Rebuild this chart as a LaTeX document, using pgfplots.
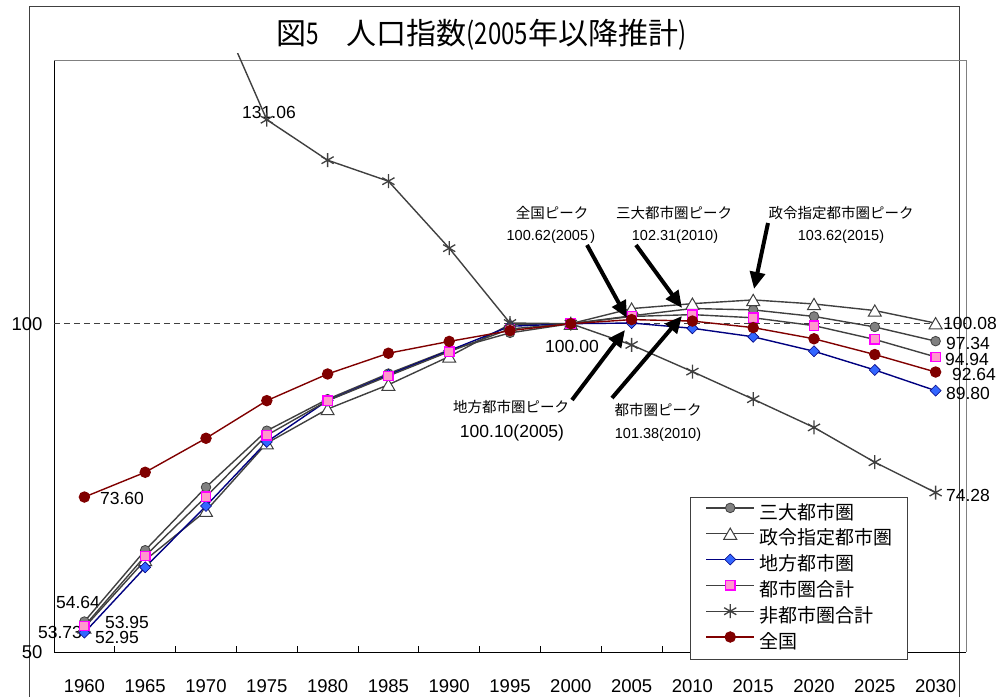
\documentclass[border=0pt]{standalone}
\usepackage{fontspec}
\setmainfont{Liberation Sans}
\newfontfamily\jp{Noto Sans CJK JP}
\usepackage{graphicx}
\usepackage{pgfplots}
\pgfplotsset{compat=1.18}
\usetikzlibrary{arrows.meta}
\definecolor{dgray}{HTML}{404040}
\definecolor{mgray}{HTML}{808080}
\definecolor{navyc}{HTML}{000080}
\definecolor{dblue}{HTML}{3366FF}
\definecolor{pinkf}{HTML}{FF99CC}
\definecolor{mag}{HTML}{FF00FF}
\definecolor{dred}{HTML}{800000}
\begin{document}
\begin{tikzpicture}
\useasboundingbox (0,0) rectangle (1003pt,696pt);
\begin{scope}[x=1pt,y=-1pt,shift={(0pt,696pt)}]
  % outer chart frame
  \draw[dgray, line width=1pt] (29,705) -- (29,7) -- (959,7) -- (959,705);
  % plot area frame
  \draw[mgray, line width=1pt] (54,61) -- (966,61) -- (966,652);
  \draw[black, line width=1pt] (54,61) -- (54,652) -- (966,652);
  % dashed 100 line
  \draw[dgray, line width=0.9pt, dash pattern=on 6pt off 4pt] (54,323.7) -- (966,323.7);
  % data labels
  \begin{scope}[every node/.style={font=\fontsize{17.5}{19}\selectfont, inner sep=0pt}]
    \node at (269,112) {131.06};
    \node at (122,498) {73.60};
    \node at (78,602) {54.64};
    \node at (127,622) {53.95};
    \node at (60,632) {53.73};
    \node at (117,637) {52.95};
    \node at (970,323) {100.08};
    \node at (968,343) {97.34};
    \node at (967,359) {94.94};
    \node at (974,374) {92.64};
    \node at (968,393) {89.80};
    \node at (968,495) {74.28};
    \node at (572,346) {100.00};
  \end{scope}
\end{scope}
\begin{axis}[
  at={(54pt,44pt)}, anchor=south west,
  width=912pt, height=598pt, scale only axis,
  xmin=-0.5, xmax=14.5, ymin=50, ymax=141.07,
  axis line style={draw=none},
  xtick={0,...,14},
  xticklabels={1960,1965,1970,1975,1980,1985,1990,1995,2000,2005,2010,2015,2020,2025,2030},
  minor x tick num=1,
  xtick pos=lower, ytick pos=left,
  tick align=inside,
  major tick length=0pt,
  minor tick length=6pt,
  minor tick style={black, line width=1pt},
  ytick={50,100}, yticklabels={50,100},
  ticklabel style={font=\fontsize{18.5}{20}\selectfont},
  xticklabel style={yshift=-24pt},
  yticklabel style={xshift=-8pt},
  legend style={at={(0.6974,0.2592)}, anchor=north west, draw=dgray, line width=1pt, fill=white,
    font=\jp\fontsize{19}{20}\selectfont, inner xsep=15pt, inner ysep=3.5pt, row sep=0pt,
    nodes={inner sep=0pt, text height=18pt, text depth=7.8pt}},
  legend cell align=left,
  legend image code/.code={\draw[mark repeat=2,mark phase=2,#1] plot coordinates {(0pt,6pt) (24pt,6pt) (48pt,6pt)}; \path (53pt,6pt);},
]
\addplot[dgray, line width=1.4pt, mark=*, mark size=4.8pt, mark options={fill=mgray, draw=dgray, line width=0.8pt, solid}] coordinates {
(0,54.64) (1,65.5) (2,75.1) (3,83.7) (4,88.5) (5,92.4) (6,96.0) (7,98.6) (8,100) (9,101.2) (10,102.31) (11,102.1) (12,101.1) (13,99.5) (14,97.34)};
\addlegendentry{三大都市圏}
\addplot[dgray, line width=1.4pt, mark=triangle*, mark size=7.5pt, mark options={fill=white, draw=dgray, line width=1pt, yshift=-1.9pt, solid}] coordinates {
(0,53.73) (1,64.0) (2,71.5) (3,81.8) (4,87.0) (5,90.7) (6,95.0) (7,99.9) (8,100) (9,102.3) (10,103.05) (11,103.62) (12,103.0) (13,102.0) (14,100.08)};
\addlegendentry{政令指定都市圏}
\addplot[navyc, line width=1.4pt, mark=square*, mark size=3.9pt, mark options={rotate=45, fill=dblue, draw=navyc, line width=0.6pt, solid}] coordinates {
(0,52.95) (1,62.9) (2,72.24) (3,82.0) (4,88.3) (5,92.2) (6,95.9) (7,99.6) (8,100) (9,100.10) (10,99.3) (11,98.0) (12,95.8) (13,92.95) (14,89.80)};
\addlegendentry{地方都市圏}
\addplot[dgray, line width=1.4pt, mark=square*, mark size=4.7pt, mark options={fill=pinkf, draw=mag, line width=1.3pt, solid}] coordinates {
(0,53.95) (1,64.63) (2,73.65) (3,83.0) (4,88.27) (5,92.04) (6,95.74) (7,99.2) (8,100) (9,101.1) (10,101.38) (11,100.9) (12,99.7) (13,97.6) (14,94.94)};
\addlegendentry{都市圏合計}
\addplot[dgray, line width=1.4pt, mark=asterisk, mark size=7pt, mark options={draw=dgray, line width=1.3pt, solid}] coordinates {
(0,170) (1,162) (2,152.2) (3,131.06) (4,124.9) (5,121.7) (6,111.5) (7,100.1) (8,100) (9,96.76) (10,92.7) (11,88.5) (12,84.2) (13,78.9) (14,74.28)};
\addlegendentry{非都市圏合計}
\addplot[dred, line width=1.4pt, mark=*, mark size=5pt, mark options={fill=dred, draw=dred, solid}] coordinates {
(0,73.60) (1,77.37) (2,82.55) (3,88.28) (4,92.34) (5,95.5) (6,97.3) (7,98.94) (8,100) (9,100.62) (10,100.4) (11,99.4) (12,97.7) (13,95.3) (14,92.64)};
\addlegendentry{全国}
\end{axis}
\begin{scope}[x=1pt,y=-1pt,shift={(0pt,696pt)}]
  % title
  \node[anchor=west, inner sep=0pt] at (276,35) {\jp\fontsize{30}{31}\selectfont 図\scalebox{0.75}[1]{5}\hspace{28pt}人口指数\scalebox{0.8}[1]{(2005}年以降推計\scalebox{0.8}[1]{)}};
  % annotations
  \begin{scope}[every node/.style={inner sep=0pt}]
    \node at (552,213) {\jp\fontsize{14.5}{16}\selectfont 全国ピーク};
    \node at (551,237) {\fontsize{14.5}{16}\selectfont 100.62(2005\,)};
    \node at (674,213) {\jp\fontsize{14.5}{16}\selectfont 三大都市圏ピーク};
    \node at (675,237) {\fontsize{14.5}{16}\selectfont 102.31(2010)};
    \node at (841,213) {\jp\fontsize{14.5}{16}\selectfont 政令指定都市圏ピーク};
    \node at (841,237) {\fontsize{14.5}{16}\selectfont 103.62(2015)};
    \node at (511,407) {\jp\fontsize{14.5}{16}\selectfont 地方都市圏ピーク};
    \node at (512,433) {\fontsize{17.5}{19}\selectfont 100.10(2005)};
    \node at (658,410) {\jp\fontsize{14.5}{16}\selectfont 都市圏ピーク};
    \node at (658,435) {\fontsize{14.5}{16}\selectfont 101.38(2010)};
  \end{scope}
  \begin{scope}[line width=4pt, -{Triangle[length=17pt, width=15pt]}]
    \draw (587,245) -- (627,318);
    \draw (636,245) -- (682,308);
    \draw (768,223) -- (754,289);
    \draw (572,400) -- (625,330);
    \draw (612,398) -- (682,316);
  \end{scope}
\end{scope}
\end{tikzpicture}
\end{document}
